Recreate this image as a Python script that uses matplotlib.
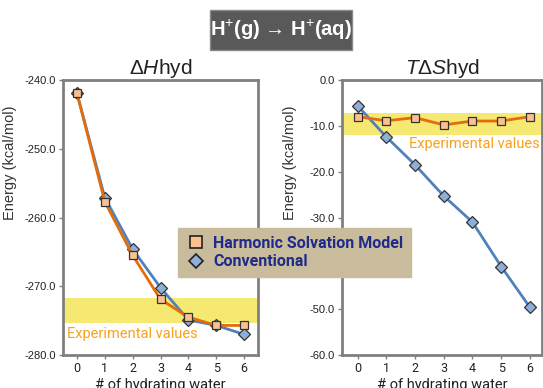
import matplotlib
matplotlib.use('Agg')
import matplotlib.pyplot as plt
from matplotlib import font_manager
from matplotlib.lines import Line2D
from matplotlib.patches import Rectangle

# pick a narrow font if there is one
names = {f.name for f in font_manager.fontManager.ttflist}
narrow = 'Liberation Sans Narrow' if 'Liberation Sans Narrow' in names else 'Roboto'

plt.rcParams['mathtext.fontset'] = 'custom'
plt.rcParams['mathtext.rm'] = 'Liberation Sans'
plt.rcParams['mathtext.it'] = 'Liberation Sans:italic'
plt.rcParams['mathtext.bf'] = 'Liberation Sans:bold'

n_water = [0, 1, 2, 3, 4, 5, 6]
dh_hsm = [-241.9, -257.7, -265.5, -271.9, -274.5, -275.7, -275.7]
dh_conv = [-241.9, -257.1, -264.6, -270.2, -274.9, -275.7, -277.0]
dh_exp = (-275.4, -271.7)
tds_hsm = [-8.0, -8.9, -8.2, -9.8, -8.95, -8.95, -8.0]
tds_conv = [-5.6, -12.4, -18.5, -25.3, -31.0, -40.7, -49.6]
tds_exp = (-12.0, -7.3)
dh_ticks = [-240, -250, -260, -270, -280]
tds_ticks = [0, -10, -20, -30, -40, -50, -60]

orange = '#e46c0a'
orange_fill = '#fac090'
blue = '#4f81bd'
blue_fill = '#8eb0d8'
frame = '#808080'
navy = '#1f2a8a'
exp_col = '#f7a21b'

fig = plt.figure(figsize=(5.43, 3.88), dpi=100)
W, H = 543, 388


def box(x0, x1, y0, y1):
    return [x0 / W, 1 - y1 / H, (x1 - x0) / W, (y1 - y0) / H]


ax1 = fig.add_axes(box(63, 258, 80, 355))
ax2 = fig.add_axes(box(342, 542, 80, 355))

for ax, hsm, conv, exp, ticks in [(ax1, dh_hsm, dh_conv, dh_exp, dh_ticks),
                                  (ax2, tds_hsm, tds_conv, tds_exp, tds_ticks)]:
    ax.axhspan(exp[0], exp[1], color='#f5e971', zorder=0, lw=0)
    ax.plot(n_water, conv, color=blue, lw=2, marker='D', ms=6,
            mfc=blue_fill, mec='#333333', mew=0.9, zorder=3)
    ax.plot(n_water, hsm, color=orange, lw=2, marker='s', ms=6,
            mfc=orange_fill, mec='#333333', mew=0.9, zorder=4)
    ax.set_yticks(ticks)
    ax.set_yticklabels([f'{t:.1f}' for t in ticks], fontsize=8,
                       family='Liberation Sans', color='#222222')
    ax.set_ylim(min(ticks), max(ticks))
    ax.set_xticks(n_water)
    ax.set_xticklabels([str(n) for n in n_water], fontsize=9,
                       family=narrow, color='#222222')
    for s in ax.spines.values():
        s.set_color(frame)
        s.set_linewidth(2)
    ax.tick_params(axis='both', direction='out', length=3, width=1,
                   color=frame, pad=2)
    ax.set_xlabel('# of hydrating water', fontsize=10.5, family=narrow,
                  labelpad=2, color='#222222')
    ax.set_ylabel('Energy (kcal/mol)', fontsize=10.5, family='Liberation Sans',
                  color='#333333')

ax1.set_xlim(-0.5, 6.5)
ax2.set_xlim(-0.54, 6.42)
# y labels sit above the axes middle in the reference
ax1.yaxis.set_label_coords((17 - 63) / 195, (355 - 163) / 275)
ax2.yaxis.set_label_coords((297 - 342) / 200, (355 - 163) / 275)

ax1.text(0.02, -276.9, 'Experimental values', color=exp_col, fontsize=10.5,
         family=narrow, va='center', ha='left',
         transform=ax1.get_yaxis_transform())
ax2.text(0.99, -13.9, 'Experimental values', color=exp_col, fontsize=10.5,
         family=narrow, va='center', ha='right',
         transform=ax2.get_yaxis_transform())

ax1.set_title(r'$\Delta \mathit{H}$hyd', fontsize=15, family='Liberation Sans',
              pad=4, color='#222222')
ax2.set_title(r'$\mathit{T}\Delta \mathit{S}$hyd', fontsize=15,
              family='Liberation Sans', pad=4, color='#222222')

# top banner
fig.patches.append(Rectangle((210 / W, 1 - 50 / H), 142 / W, 40 / H,
                             transform=fig.transFigure, facecolor='#595959',
                             edgecolor='#8a8a8a', lw=1))
fig.text(281 / W, 1 - 30 / H, 'H$^{+}$(g) \u2192 H$^{+}$(aq)', color='white',
         fontsize=14.5, fontweight='bold', family='Liberation Sans',
         ha='center', va='center')

handles = [Line2D([], [], ls='none', marker='s', ms=8, mfc=orange_fill,
                  mec='#222222', mew=1.2),
           Line2D([], [], ls='none', marker='D', ms=7, mfc=blue_fill,
                  mec='#222222', mew=1.2)]
leg = fig.legend(handles, ['Harmonic Solvation Model', 'Conventional'],
                 loc='upper left', bbox_to_anchor=(178 / W, 1 - 228 / H),
                 borderaxespad=0, frameon=True, fancybox=False,
                 facecolor='#c9bc9c', edgecolor='#c9bc9c', framealpha=1,
                 handletextpad=0.5, borderpad=0.5, labelspacing=0.2,
                 handlelength=1.2,
                 prop={'family': narrow, 'size': 11.5, 'weight': 'bold'})
leg.set_zorder(10)
for t in leg.get_texts():
    t.set_color(navy)

fig.savefig('out.png', dpi=100)
